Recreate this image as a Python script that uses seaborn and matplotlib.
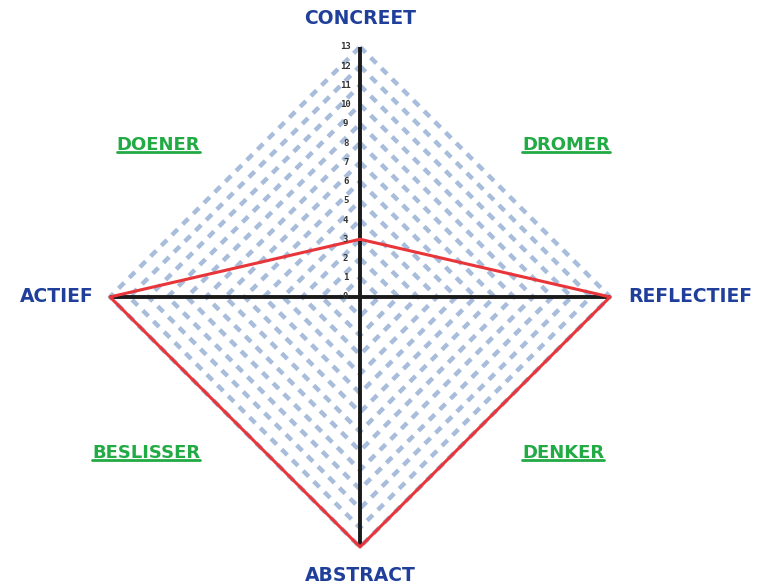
import numpy as np
import pandas as pd
import matplotlib
matplotlib.use("Agg")
import matplotlib.pyplot as plt
import seaborn as sns

# ---- data ----
axes_labels = ["CONCREET", "REFLECTIEF", "ABSTRACT", "ACTIEF"]
axes_angles_deg = [90, 0, 270, 180]
values = [3, 13, 13, 13]
quadrant_labels = ["DROMER", "DENKER", "BESLISSER", "DOENER"]
tick_levels = list(range(0, 14))
max_level = 13

sns.set_theme(style="white")
plt.rcParams['font.family'] = ['DejaVu Sans', 'DejaVu Sans Mono']

fig = plt.figure(figsize=(7.66, 5.87), dpi=100)
ax = fig.add_axes([0, 0, 1, 1])
ax.set_xlim(-18.72, 21.11)
ax.set_ylim(-15.08, 15.44)
ax.axis("off")

theta = np.deg2rad(np.array(axes_angles_deg + [axes_angles_deg[0]]))

# grid diamonds
for lv in tick_levels[1:]:
    ax.plot(lv * np.cos(theta), lv * np.sin(theta), color="#a8bddb",
            lw=3.2, dashes=(1.8, 1.6), solid_capstyle="butt",
            dash_capstyle="butt", zorder=1)

# axis lines
for a in axes_angles_deg:
    t = np.deg2rad(a)
    ax.plot([0, max_level * np.cos(t)], [0, max_level * np.sin(t)],
            color="#1a1a1a", lw=2.8, zorder=2, solid_capstyle="butt")

# data polygon
v = np.array(values + [values[0]])
df = pd.DataFrame({"x": v * np.cos(theta), "y": v * np.sin(theta)})
sns.lineplot(data=df, x="x", y="y", sort=False, estimator=None,
             color="#e8353a", lw=2.2, ax=ax, zorder=3)

# tick labels
for lv in tick_levels:
    ax.text(-0.75, lv, str(lv), ha="center", va="center", fontsize=6.5,
            color="#333333", fontweight="bold", zorder=4,
            family="DejaVu Sans Mono")

# axis labels
blue = "#1f3f9a"
lab_pos = {"CONCREET": (0, 14.5, "center"),
           "REFLECTIEF": (13.94, 0, "left"),
           "ABSTRACT": (0, -14.46, "center"),
           "ACTIEF": (-13.83, 0, "right")}
for lab in axes_labels:
    x, y, ha = lab_pos[lab]
    ax.text(x, y, lab, ha=ha, va="center", fontsize=13.5, fontweight="bold",
            color=blue)

# quadrant labels
green = "#22aa44"
qpos = {"DROMER": (8.43, 7.9, "left"), "DENKER": (8.43, -8.1, "left"),
        "BESLISSER": (-8.32, -8.1, "right"), "DOENER": (-8.32, 7.9, "right")}
fig.canvas.draw()
for lab in quadrant_labels:
    x, y, ha = qpos[lab]
    t = ax.text(x, y, lab, ha=ha, va="center", fontsize=13,
                fontweight="bold", color=green)
    fig.canvas.draw()
    bb = t.get_window_extent().transformed(ax.transData.inverted())
    ax.plot([bb.x0, bb.x1], [bb.y0 + 0.08, bb.y0 + 0.08], color=green, lw=2)

fig.savefig("out.png", dpi=100)
